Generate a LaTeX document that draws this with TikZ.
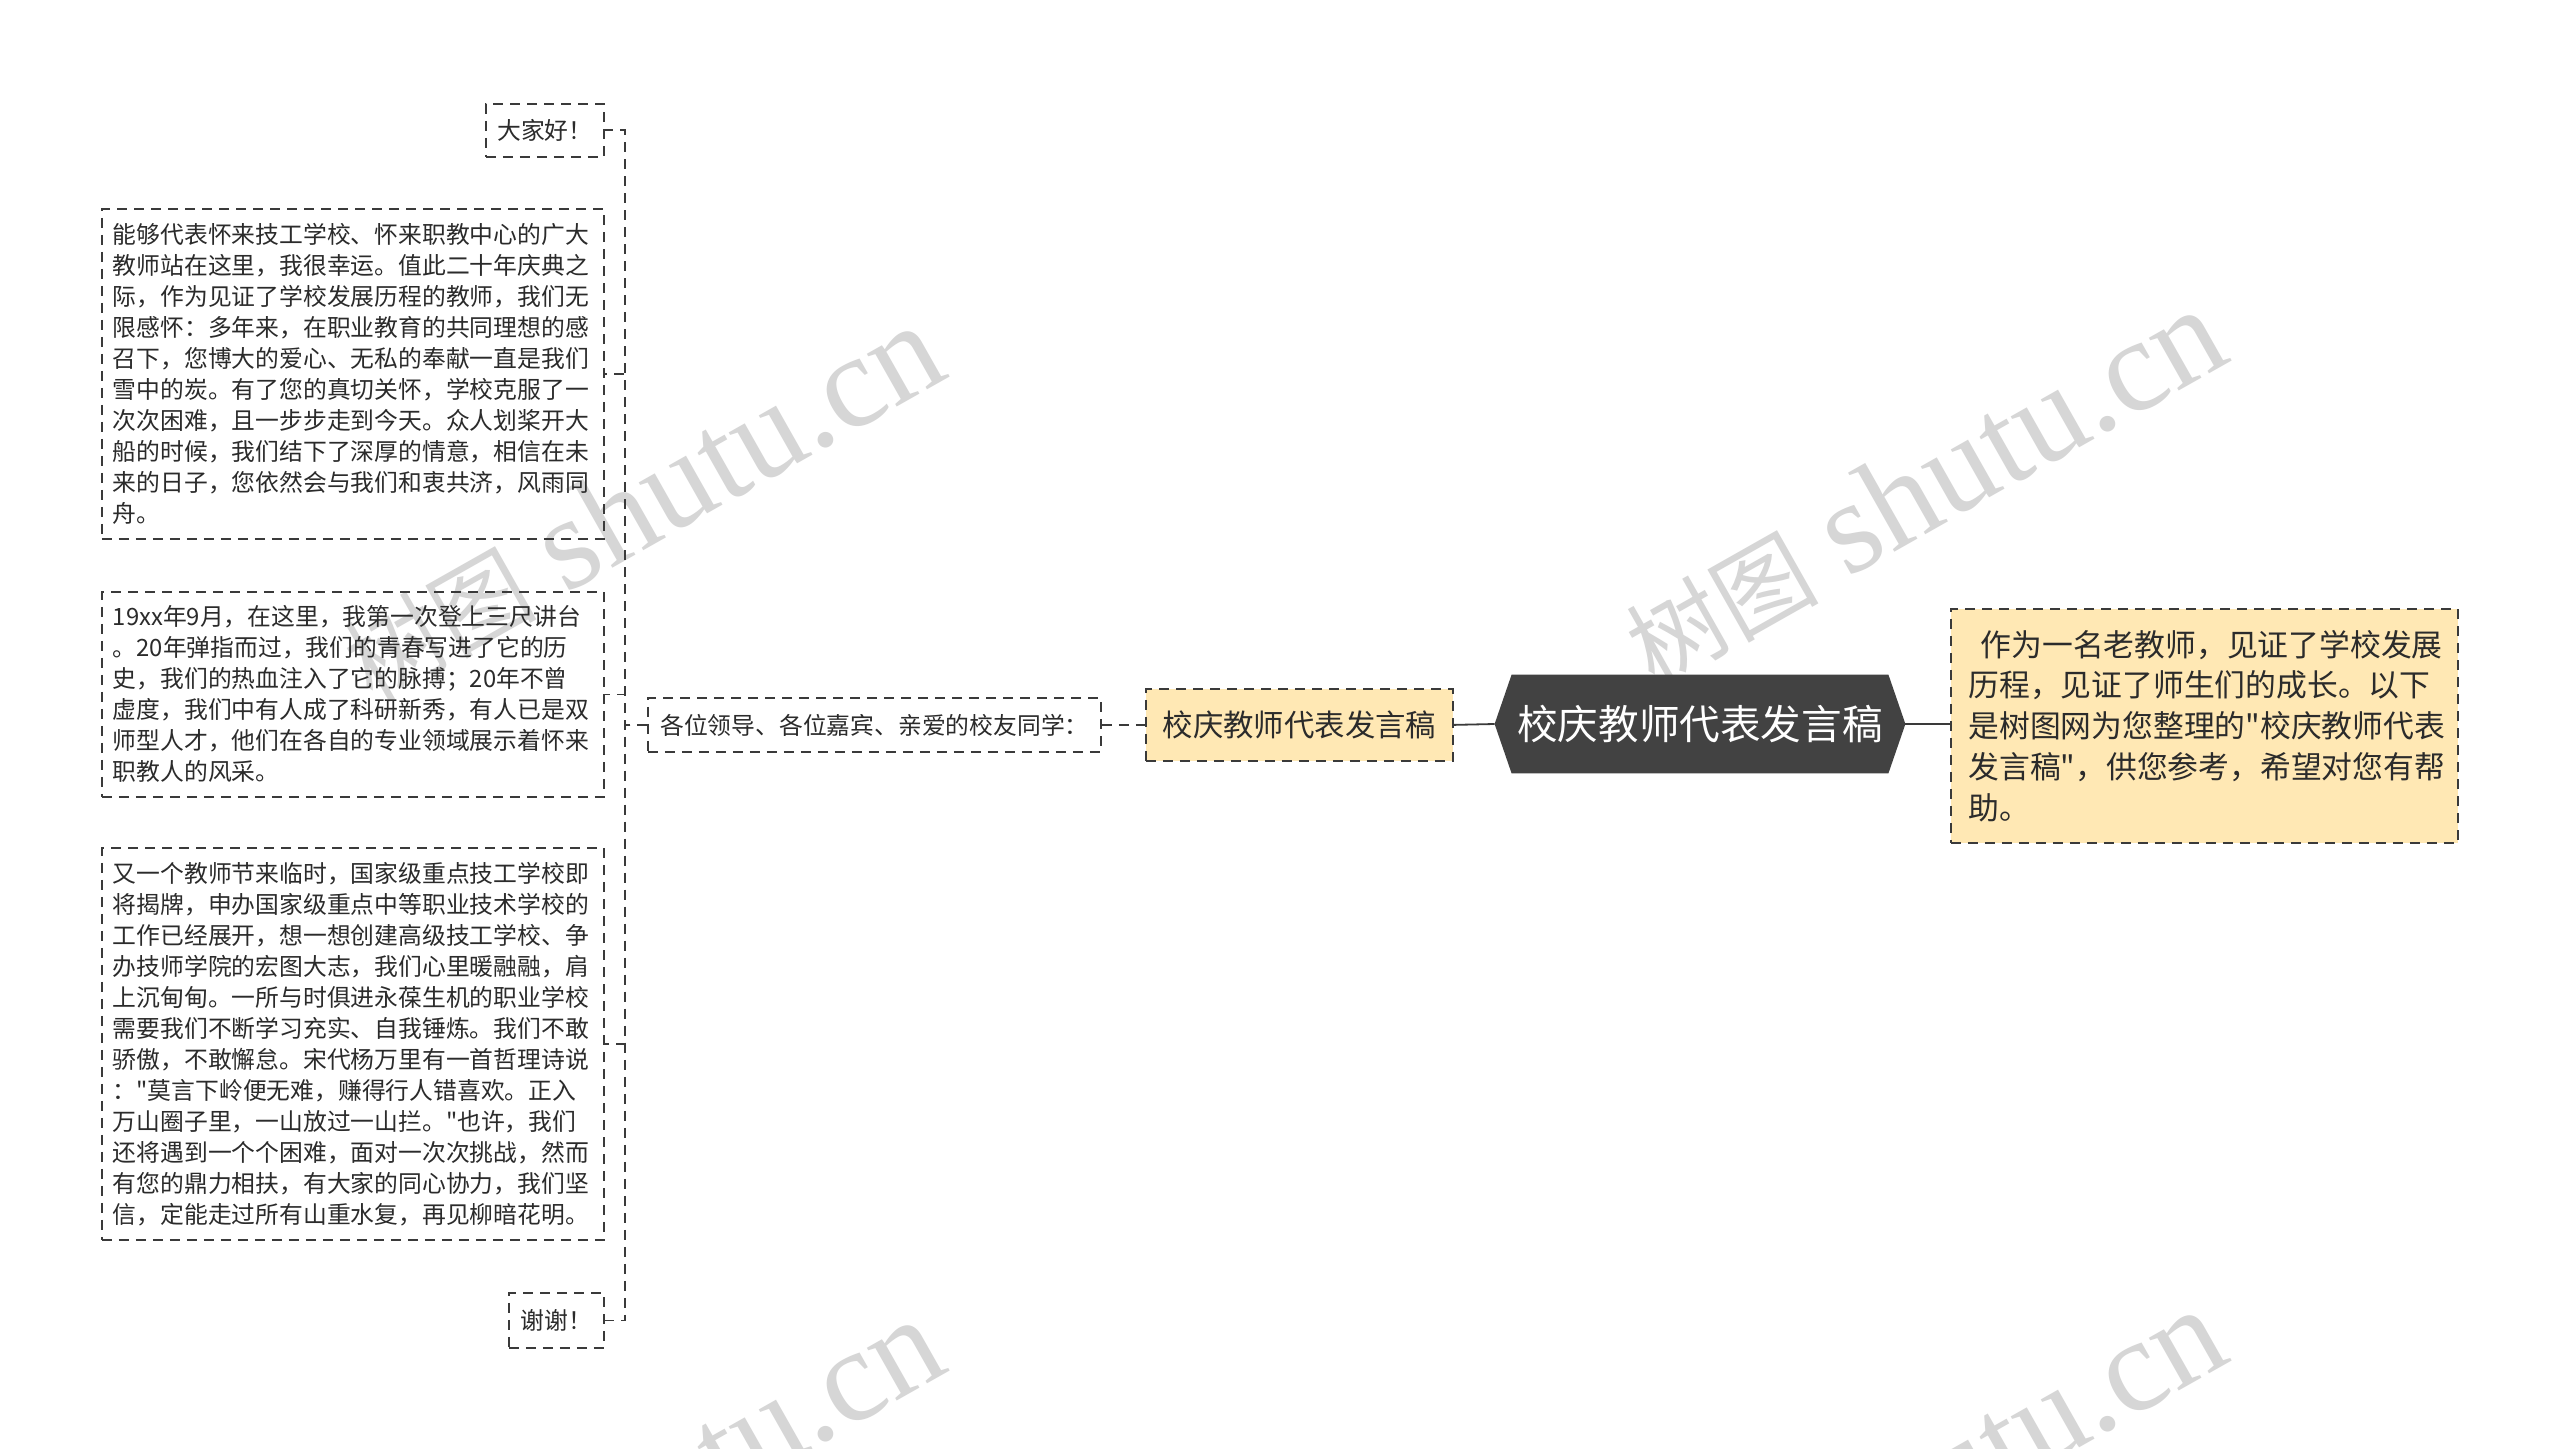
\documentclass[tikz,border=0pt]{standalone}
\usepackage{fontspec}
\setmainfont{Noto Sans CJK SC}[Ligatures=TeXOff]
\newfontfamily\wmserif{Liberation Serif}
\newfontfamily\wmcjk{Noto Sans CJK SC}
\usetikzlibrary{backgrounds}
\definecolor{ink}{HTML}{2B2B2B}
\definecolor{linec}{HTML}{3A3A3A}
\definecolor{peach}{HTML}{FFE8B4}
\definecolor{hexfill}{HTML}{424242}
\definecolor{wmgray}{HTML}{D6D6D6}
\begin{document}
\begin{tikzpicture}[x=0.5pt,y=-0.5pt,
  dashbox/.style={draw=linec, line width=0.9pt, dash pattern=on 5pt off 3.5pt, inner sep=0pt, anchor=north west, text=ink},
  smallfont/.style={font=\fontsize{11.9}{15.5}\selectfont},
  para/.style={dashbox, smallfont, text width=240pt, inner xsep=5.5pt, align=left},
  leaf/.style={dashbox, smallfont, align=center},
  conn/.style={draw=linec, line width=0.9pt},
  dconn/.style={conn, dash pattern=on 5pt off 3.5pt},
  wm/.style={text=wmgray, font=\fontsize{66}{68}\selectfont, rotate=29.5, anchor=base east, inner sep=0pt}
]
\useasboundingbox (0,0) rectangle (2560,1449);
\begin{pgfonlayer}{background}
\fill[white] (0,0) rectangle (2560,1449);
% watermarks (behind everything)
\begin{scope}
\clip (0,0) rectangle (2560,1449);
\node[wm] (wm1) at (952,376) {{\wmcjk\fontsize{48}{50}\selectfont 树图} {\wmserif shutu.cn}};
\node[wm] (wm2) at (2234,360) {{\wmcjk\fontsize{48}{50}\selectfont 树图} {\wmserif shutu.cn}};
\node[wm] (wm3) at (952,1370) {{\wmcjk\fontsize{48}{50}\selectfont 树图} {\wmserif shutu.cn}};
\node[wm] (wm4) at (2234,1360) {{\wmcjk\fontsize{48}{50}\selectfont 树图} {\wmserif shutu.cn}};
\end{scope}
\end{pgfonlayer}

% left children
\node[leaf, minimum width=59pt, minimum height=26.5pt] (hi) at (485,103) {大家好！};
\node[para, minimum height=165pt] (p1) at (101,208) {能够代表怀来技工学校、怀来职教中心的广大\\
教师站在这里，我很幸运。值此二十年庆典之\\
际，作为见证了学校发展历程的教师，我们无\\
限感怀：多年来，在职业教育的共同理想的感\\
召下，您博大的爱心、无私的奉献一直是我们\\
雪中的炭。有了您的真切关怀，学校克服了一\\
次次困难，且一步步走到今天。众人划桨开大\\
船的时候，我们结下了深厚的情意，相信在未\\
来的日子，您依然会与我们和衷共济，风雨同\\
舟。};
\node[para, minimum height=102.5pt] (p2) at (101,591) {19xx年9月，在这里，我第一次登上三尺讲台\\
。20年弹指而过，我们的青春写进了它的历\\
史，我们的热血注入了它的脉搏；20年不曾\\
虚度，我们中有人成了科研新秀，有人已是双\\
师型人才，他们在各自的专业领域展示着怀来\\
职教人的风采。};
\node[para, minimum height=196pt] (p3) at (101,847) {又一个教师节来临时，国家级重点技工学校即\\
将揭牌，申办国家级重点中等职业技术学校的\\
工作已经展开，想一想创建高级技工学校、争\\
办技师学院的宏图大志，我们心里暖融融，肩\\
上沉甸甸。一所与时俱进永葆生机的职业学校\\
需要我们不断学习充实、自我锤炼。我们不敢\\
骄傲，不敢懈怠。宋代杨万里有一首哲理诗说\\
："莫言下岭便无难，赚得行人错喜欢。正入\\
万山圈子里，一山放过一山拦。"也许，我们\\
还将遇到一个个困难，面对一次次挑战，然而\\
有您的鼎力相扶，有大家的同心协力，我们坚\\
信，定能走过所有山重水复，再见柳暗花明。};
\node[leaf, minimum width=47.5pt, minimum height=27.5pt] (thx) at (508,1292) {谢谢！};

% middle chain
\node[leaf, minimum width=226.5pt, minimum height=27pt] (greet) at (647,697) {各位领导、各位嘉宾、亲爱的校友同学：};
\node[dashbox, fill=peach, font=\fontsize{15.2}{18}\selectfont, minimum width=153.5pt, minimum height=36pt] (topic) at (1145,688) {校庆教师代表发言稿};
\node[text=white, font=\fontsize{20.3}{24}\selectfont, minimum width=205pt, minimum height=49pt, inner sep=0pt] (root) at (1700,724) {校庆教师代表发言稿};
\begin{pgfonlayer}{background}
\fill[hexfill] ([xshift=8.5pt]root.north west) -- ([xshift=-8.5pt]root.north east) -- (root.east) -- ([xshift=-8.5pt]root.south east) -- ([xshift=8.5pt]root.south west) -- (root.west) -- cycle;
\end{pgfonlayer}
\node[dashbox, fill=peach, font=\fontsize{15.4}{20.4}\selectfont, text width=236pt, inner xsep=8.75pt, align=left, minimum height=117pt] (desc) at (1950,608) {\hspace*{0.4em}作为一名老教师，见证了学校发展\\
历程，见证了师生们的成长。以下\\
是树图网为您整理的"校庆教师代表\\
发言稿"，供您参考，希望对您有帮\\
助。};

% connectors
\draw[conn] (topic.east) -- (root.west);
\draw[conn] (root.east) -- (root.east -| desc.west);
\draw[dconn] (greet.east) -- (topic.west);
\foreach \n in {hi,p1,p2,p3,thx}
  \draw[dconn] (greet.west) -- ++(-22,0) |- (\n.east);
\end{tikzpicture}
\end{document}
